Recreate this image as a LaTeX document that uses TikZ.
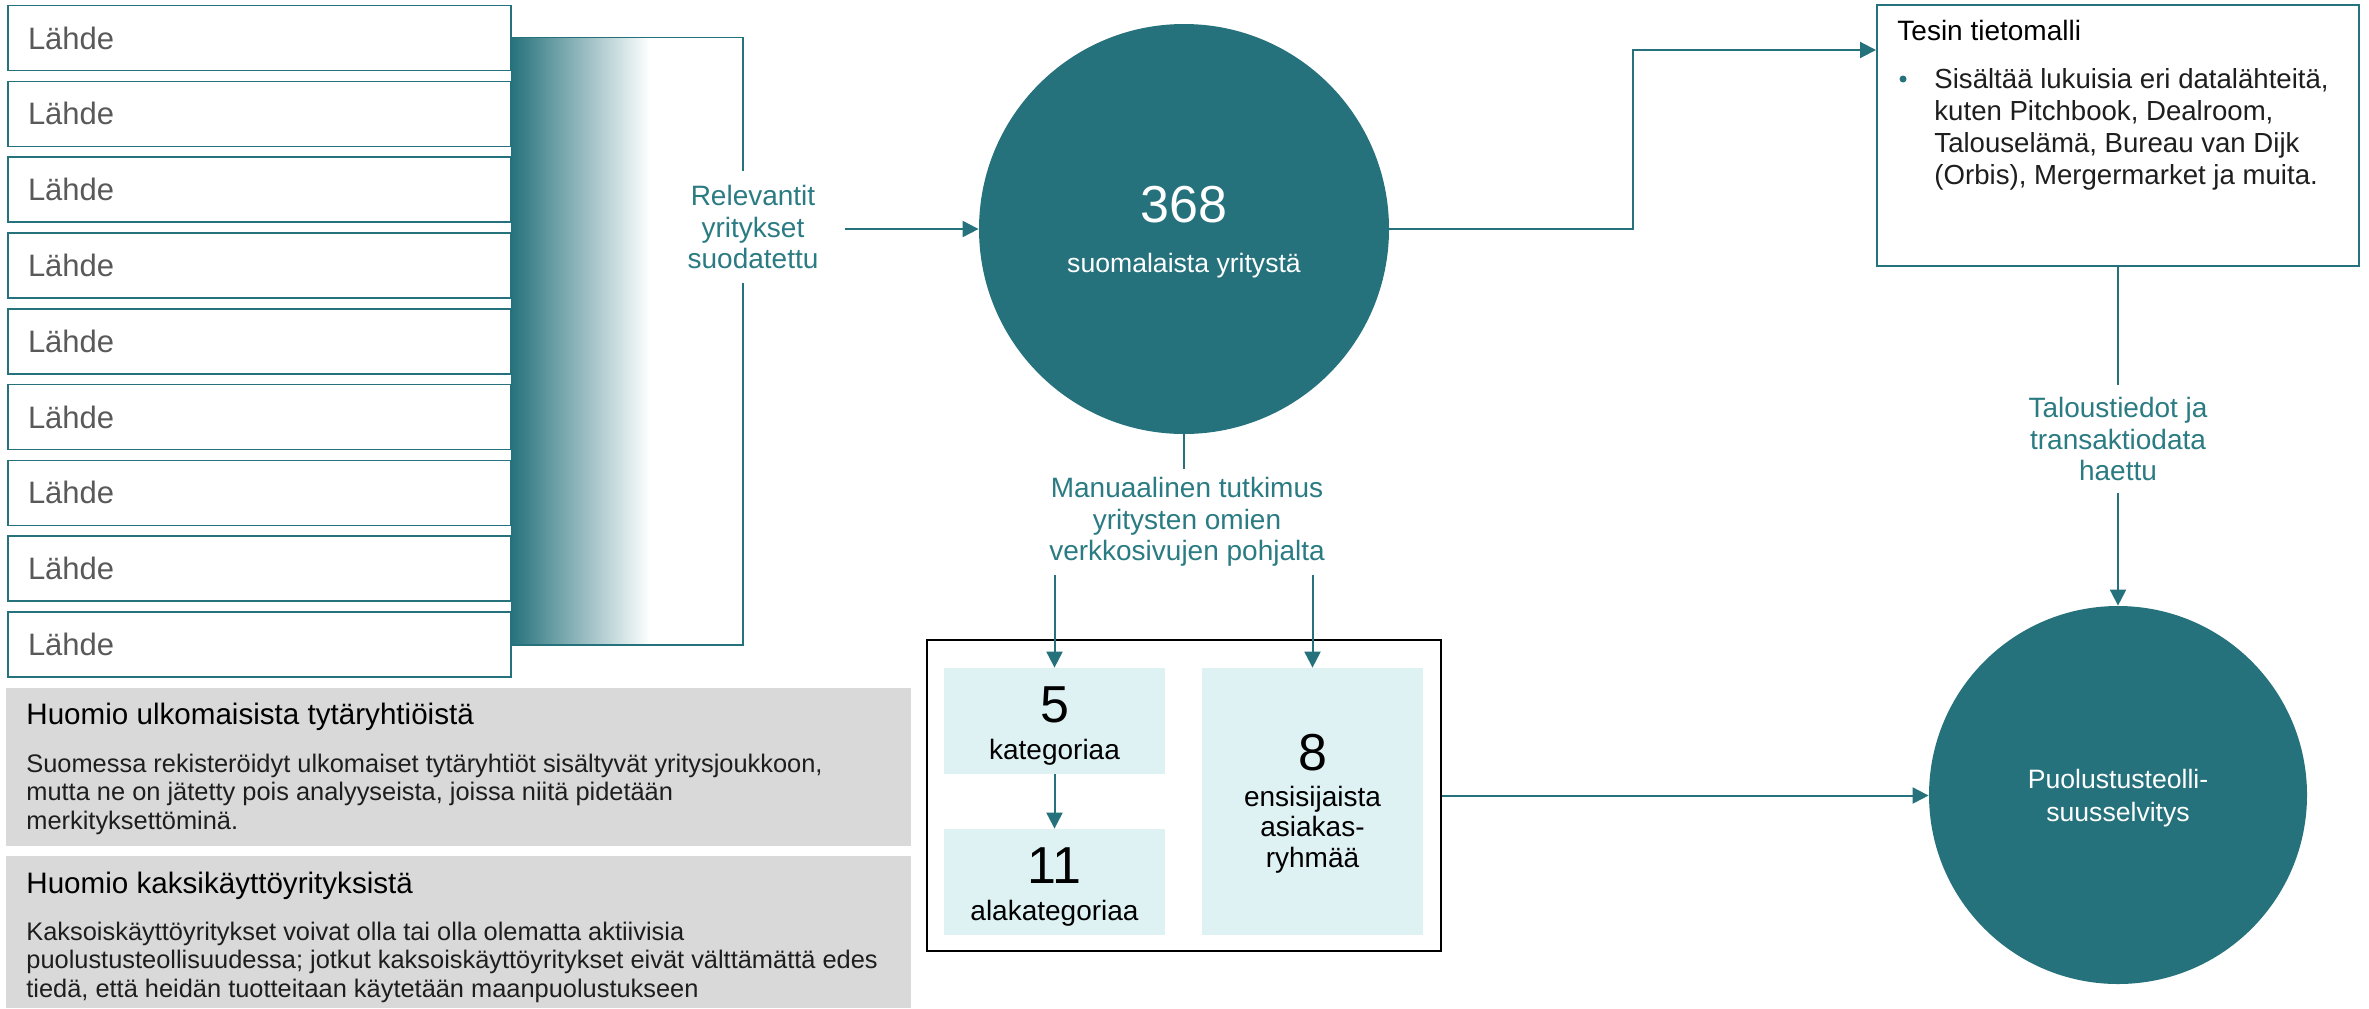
\documentclass[tikz,border=0pt]{standalone}
\usepackage{fontspec}
\setmainfont{Liberation Sans}
\usetikzlibrary{arrows.meta}

\definecolor{petrol}{RGB}{38,114,124}
\definecolor{petroltext}{RGB}{43,123,131}
\definecolor{paleblue}{RGB}{222,241,243}
\definecolor{notegray}{RGB}{217,217,217}
\definecolor{srcgray}{RGB}{89,89,89}
\definecolor{inkdark}{RGB}{30,30,30}

\tikzset{
  source/.style = {draw=petrol, line width=0.8pt, fill=white, text=srcgray,
                   minimum width=251.5pt, minimum height=32.5pt,
                   text width=231.5pt, inner xsep=10pt, align=left,
                   font=\fontsize{15.5pt}{18pt}\selectfont},
  flowlabel/.style = {text=petroltext, align=center, inner xsep=0pt, inner ysep=6pt,
                   font=\fontsize{14pt}{15.75pt}\selectfont},
  bigdot/.style = {circle, fill=petrol, inner sep=0pt, minimum size=#1},
  tile/.style = {fill=paleblue, inner sep=0pt, minimum width=110.5pt},
  bignum/.style = {font=\fontsize{26pt}{26pt}\selectfont, inner sep=0pt, anchor=base},
  caption/.style = {font=\fontsize{14pt}{15.25pt}\selectfont, inner sep=0pt,
                   anchor=base, align=center},
  link/.style = {draw=petrol, line width=1pt},
  arr/.style = {link, -{Triangle[length=8pt,width=8pt]}},
  note/.style = {fill=notegray, inner sep=0pt, anchor=north west, minimum width=452.5pt},
  notetitle/.style = {anchor=base west, inner sep=0pt,
                   font=\fontsize{14.8pt}{17pt}\selectfont},
  notebody/.style = {anchor=base west, inner sep=0pt, align=left, text=inkdark,
                   font=\fontsize{12.7pt}{14.2pt}\selectfont}
}

\begin{document}
\begin{tikzpicture}[x=0.5pt, y=-0.5pt]
	\fill[white] (0,0) rectangle (2369,1008);
	\useasboundingbox (0,0) rectangle (2369,1008);
	
	% Fade behind the sources
	\shade[left color=petrol, right color=white] (511,37.5) rectangle (650,645);
	
	% Sources
	\foreach \i in {1,...,9}
		\node[source] (src\i) at (259.5, {38+75.8*(\i-1)}) {Lähde};
	
	% Bracket + filter
	\node[flowlabel, inner ysep=7pt] (filt) at (753,227) {Relevantit\\yritykset\\suodatettu};
	\draw[petrol, line width=0.7pt] (511,37.5) -| (filt.north -| 743,0);
	\draw[petrol, line width=0.7pt] (filt.south -| 743,0) |- (511,645);
	
	% Companies
	\node[bigdot=205pt] (circ) at (1184,229) {};
	\node[bignum, text=white] (n368) at (1184,222) {368};
	\node[caption, text=white, font=\fontsize{13.3pt}{15pt}\selectfont] (t368) at (1184,272) {suomalaista yritystä};
	\draw[arr] ([xshift=13pt]filt.east |- circ.west) -- (circ.west);
	
	% Data model
	\node[draw=petrol, line width=1pt, minimum width=241pt, minimum height=130.5pt, inner sep=0pt] (tesin) at (2118,135.5) {};
	\node[anchor=base west, inner sep=0pt, font=\fontsize{14pt}{16pt}\selectfont] (tesinttl) at (1897,40) {Tesin tietomalli};
	\node[circle, fill=petrol, inner sep=0pt, minimum size=3.5pt] (blt) at (1903,79) {};
	\node[anchor=north west, align=left, inner sep=0pt, text=inkdark,
	      font=\fontsize{13.8pt}{16pt}\selectfont] (tesintxt) at (1934,68)
	      {Sisältää lukuisia eri datalähteitä,\\kuten Pitchbook, Dealroom,\\Talouselämä, Bureau van Dijk\\(Orbis), Mergermarket ja muita.};
	\draw[arr] (circ.east) -- ++(244,0) |- ([yshift=-23pt]tesin.north west);
	
	% Manual research
	\node[flowlabel, inner ysep=4pt] (man) at (1187,522) {Manuaalinen tutkimus\\yritysten omien\\verkkosivujen pohjalta};
	\draw[link] (circ.south) -- (circ.south |- man.north);
	
	\node[draw=black, line width=1.2pt, minimum width=257pt, minimum height=155.5pt, inner sep=0pt] (frame) at (1184,795.5) {};
	\node[tile, minimum height=53pt] (cat) at (1054.5,721) {};
	\node[tile, minimum height=53pt] (sub) at (1054.5,882) {};
	\node[tile, minimum height=133.5pt] (grp) at (1312.5,801.5) {};
	
	\node[bignum] (ncat) at (1054.5,722) {5};
	\node[caption] (tcat) at (1054.5,759) {kategoriaa};
	\node[bignum] (nsub) at (1054.5,883.5) {11};
	\node[caption] (tsub) at (1054.5,920) {alakategoriaa};
	\node[bignum] (ngrp) at (1312.5,770.5) {8};
	% base = last line
	\node[caption] (tgrp) at (1312.5,867) {ensisijaista\\asiakas-\\ryhmää};
	
	\draw[arr] (man.south -| cat.north) -- (cat.north);
	\draw[arr] (man.south -| grp.north) -- (grp.north);
	\draw[arr] (cat.south) -- (sub.north);
	
	% Result
	\node[bigdot=189pt] (res) at (2118,795) {};
	\node[caption, text=white, font=\fontsize{13.3pt}{16.5pt}\selectfont] (restxt) at (2118,821) {Puolustusteolli-\\suusselvitys};
	\node[flowlabel] (fin) at (2118,439) {Taloustiedot ja\\transaktiodata\\haettu};
	\draw[link] (tesin.south) -- (fin.north);
	\draw[arr] (fin.south) -- (res.north);
	\draw[arr] (frame.east) -- (res.west |- frame.east);
	
	% Notes
	\node[note, minimum height=79pt] (note1) at (6,688) {};
	\node[notetitle] (note1ttl) at (26,724) {Huomio ulkomaisista tytäryhtiöistä};
	\node[notebody] (note1txt) at (26,829) {Suomessa rekisteröidyt ulkomaiset tytäryhtiöt sisältyvät yritysjoukkoon,\\mutta ne on jätetty pois analyyseista, joissa niitä pidetään\\merkityksettöminä.};
	
	\node[note, minimum height=76pt] (note2) at (6,856) {};
	\node[notetitle] (note2ttl) at (26,893) {Huomio kaksikäyttöyrityksistä};
	\node[notebody] (note2txt) at (26,997) {Kaksoiskäyttöyritykset voivat olla tai olla olematta aktiivisia\\puolustusteollisuudessa; jotkut kaksoiskäyttöyritykset eivät välttämättä edes\\tiedä, että heidän tuotteitaan käytetään maanpuolustukseen};
	
\end{tikzpicture}
\end{document}
